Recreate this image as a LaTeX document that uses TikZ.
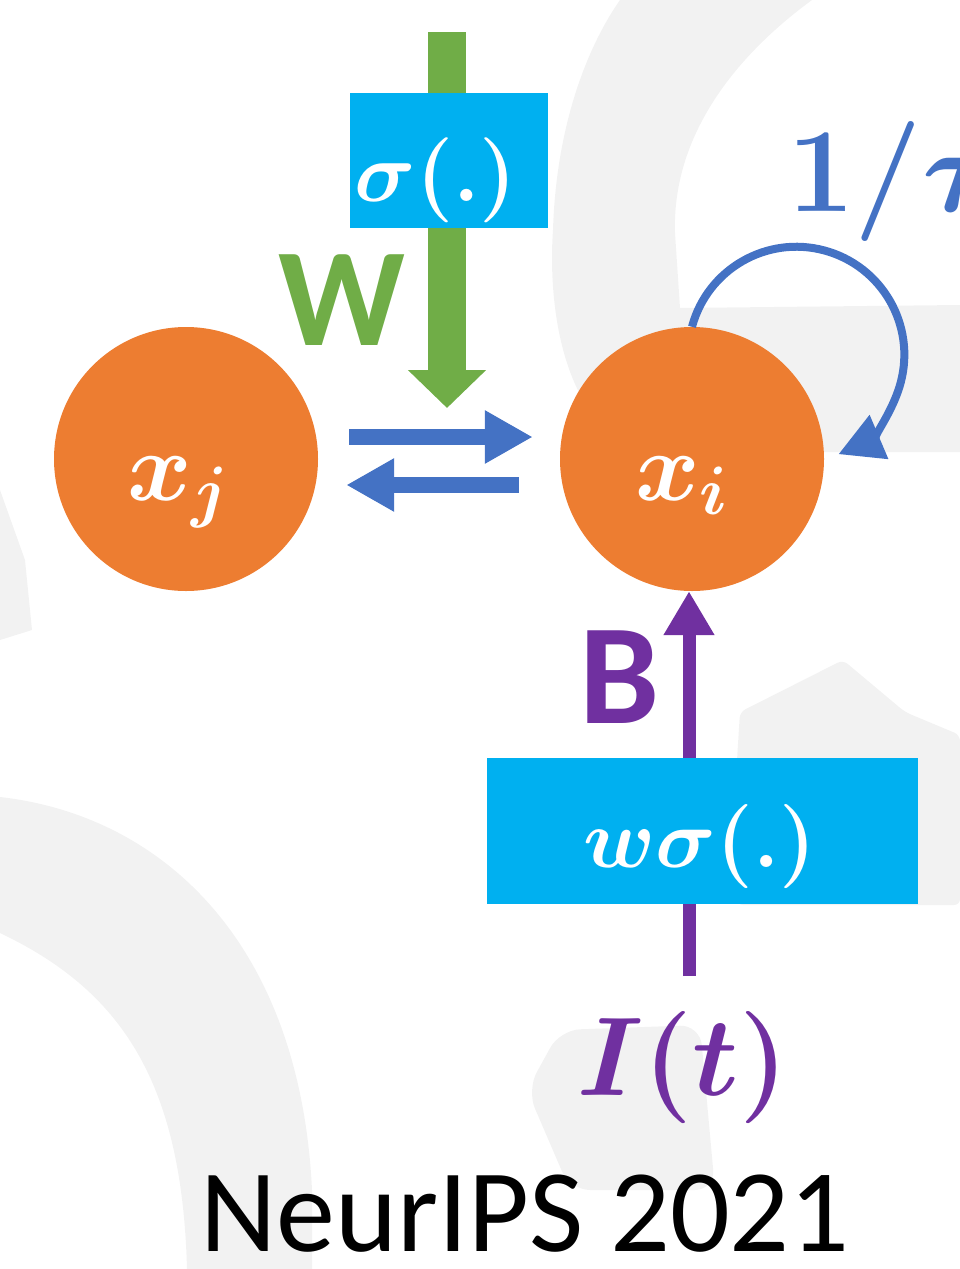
\RequirePackage{fix-cm}
\documentclass[tikz,border=0pt]{standalone}
\usepackage{fontspec}
\newfontfamily\calib{Carlito}
\newcommand\cmbold{\fontencoding{OT1}\fontfamily{cmr}\fontseries{bx}\fontshape{n}\selectfont}
\usetikzlibrary{arrows.meta}

\definecolor{nodeorange}{HTML}{ED7D31}
\definecolor{boxblue}{HTML}{00B0F0}
\definecolor{wgreen}{HTML}{70AD47}
\definecolor{linkblue}{HTML}{4472C4}
\definecolor{inpurple}{HTML}{7030A0}
\definecolor{wash}{HTML}{F2F2F2}

\begin{document}
\begin{tikzpicture}[x=1pt, y=1pt,
  disc/.style={circle, fill=nodeorange, minimum size=264pt, inner sep=0pt},
  fnbox/.style={fill=boxblue, inner sep=0pt, anchor=north west},
  disctext/.style={text=white, inner sep=0pt, anchor=base west, font={\fontsize{98}{98}\selectfont\boldmath}},
  boxtext/.style={text=white, inner sep=0pt, anchor=base, font={\fontsize{85}{85}\selectfont\boldmath}},
  linkarrow/.style={linkblue, line width=16pt, -{Triangle[length=48pt, width=50pt]}},
  weightarrow/.style={wgreen, line width=38pt, -{Triangle[length=38pt, width=76pt]}},
  inputarrow/.style={inpurple, line width=13pt, -{Triangle[length=44pt, width=48pt]}},
  selfloop/.style={linkblue, line width=8pt, -{Triangle[length=44pt, width=46pt]}},
  biglabel/.style={inner sep=0pt, anchor=base}]

\useasboundingbox (0,0) rectangle (960,-1269);
\clip (0,0) rectangle (960,-1269);

% faint watermark shapes in the background
\fill[wash] (620,0) -- (812,0)
  .. controls (730,-60) and (672,-140) .. (675,-233) -- (680,-308)
  -- (960,-305) -- (960,-452) -- (640,-452)
  .. controls (560,-420) and (548,-300) .. (553,-230)
  .. controls (556,-130) and (585,-50) .. (620,0) -- cycle;
\fill[wash, rounded corners=6pt] (737,-760) -- (740,-712) -- (843,-660) -- (905,-712)
  -- (960,-735) -- (960,-905) -- (737,-905) -- cycle;
\fill[wash] (0,-797) .. controls (160,-815) and (300,-940) .. (312,-1190) -- (312,-1269)
  -- (187,-1269) .. controls (182,-1080) and (120,-990) .. (0,-933) -- cycle;
\fill[wash, rounded corners=20pt] (560,-1030) -- (700,-1025) -- (715,-1190)
  -- (570,-1190) -- (527,-1090) -- cycle;
\fill[wash] (0,-490) -- (25,-560) -- (32,-630) -- (0,-640) -- cycle;

% the two neurons
\node[disc] (xj) at (186,-459) {};
\node[disc] (xi) at (692,-459) {};
\node[disctext] (xjl) at (127,-500) {$x_j$};
\node[disctext] (xil) at (635,-500) {$x_i$};

% synaptic weight W through the sigmoid
\coordinate (wtop) at (447,-32);
\coordinate (wtip) at (447,-408);
\draw[weightarrow] (wtop) -- (wtip);
\node[fnbox, minimum width=198pt, minimum height=135pt] (sig) at (350,-93) {};
\node[boxtext] (sigl) at (436,-201) {$\sigma${\cmbold(.)}};
\node[biglabel, text=wgreen, font={\calib\bfseries\fontsize{140}{140}\selectfont}] (wlab) at (342,-345) {W};

% coupling between x_j and x_i
\draw[linkarrow, shorten <=31pt, shorten >=27pt] ([yshift=22pt]xj.east) -- ([yshift=22pt]xi.west);
\draw[linkarrow, shorten <=41pt, shorten >=28pt] ([yshift=-26pt]xi.west) -- ([yshift=-26pt]xj.east);

% leak term 1/tau
\draw[selfloop] (xi.north) arc[start angle=165, end angle=-67, radius=108];
\node[inner sep=0pt, anchor=base west, text=linkblue, font={\fontsize{120}{120}\selectfont\boldmath}] (tau) at (787,-211) {{\cmbold 1/}$\tau$};

% external input I(t)
\coordinate (isrc) at (689,-976);
\draw[inputarrow] (isrc) -- (isrc |- xi.south);
\node[fnbox, minimum width=431pt, minimum height=146pt] (wsig) at (487,-758) {};
\node[boxtext, font={\fontsize{84}{84}\selectfont\boldmath}] (wsigl) at (700,-867) {$w\sigma${\cmbold(.)}};
\node[biglabel, text=inpurple, font={\calib\bfseries\fontsize{143}{143}\selectfont}] (blab) at (620,-723) {B};
\node[biglabel, text=inpurple, font={\fontsize{112}{112}\selectfont\boldmath}] (input) at (683,-1095) {$I${\cmbold(}$t${\cmbold)}};

% caption
\node[biglabel, font={\calib\fontsize{118}{118}\selectfont}] (venue) at (525,-1251) {NeurIPS 2021};
\end{tikzpicture}
\end{document}
